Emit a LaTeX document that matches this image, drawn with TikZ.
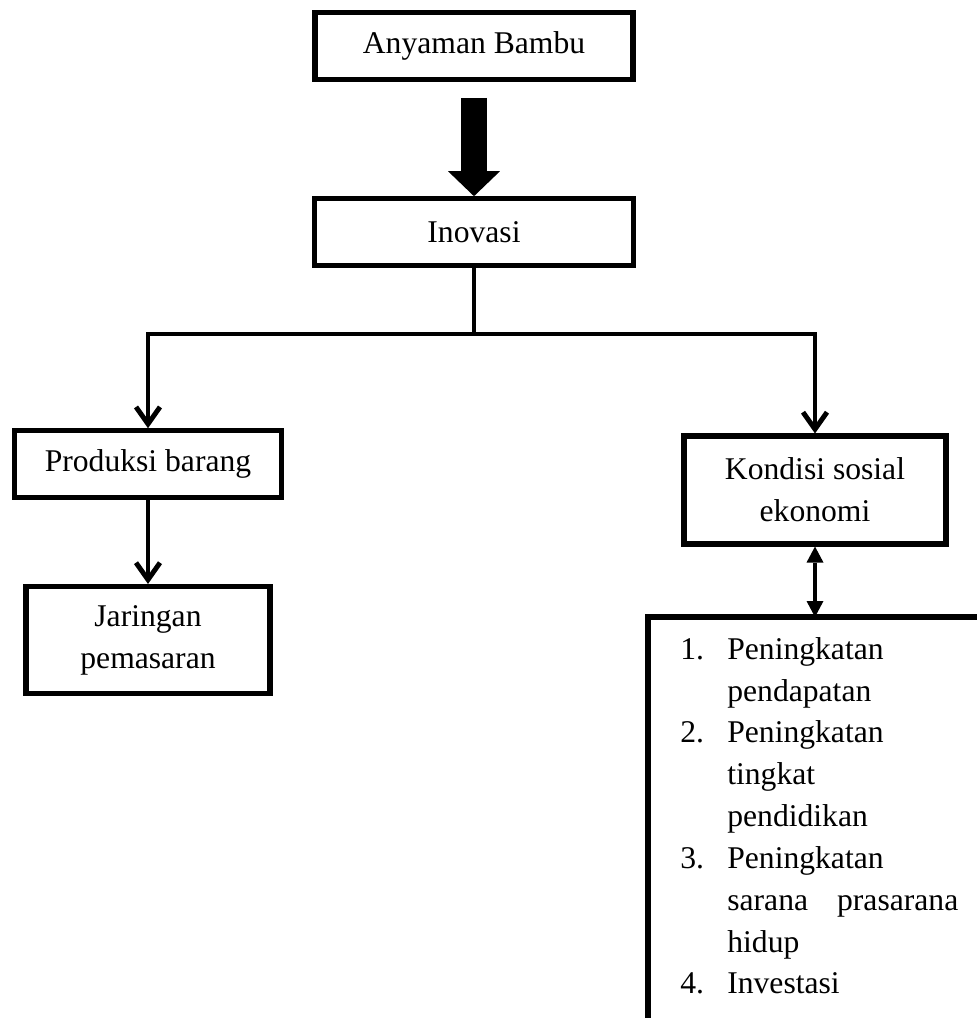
\documentclass[tikz,border=0pt]{standalone}
\usepackage{fontspec}
\setmainfont{Liberation Serif}
\usetikzlibrary{arrows.meta,positioning}

\newcommand{\butir}[2]{\makebox[0.94cm][l]{#1}#2}
\newcommand{\lanjut}[1]{\hspace*{0.94cm}#1}

\begin{document}
\begin{tikzpicture}[
  x=0.02cm, y=-0.02cm,
  kotak/.style={draw,line width=2.9pt,minimum width=#1,minimum height=1.33cm,
    align=center,inner sep=2pt,font=\fontsize{18}{23.8}\selectfont},
  garis/.style={line width=2.8pt},
  panah/.style={garis,-{Straight Barb[length=0.34cm,width=0.48cm]}},
  panahdua/.style={garis,{Triangle[length=0.32cm,width=0.34cm,line width=0pt]}-{Triangle[length=0.32cm,width=0.34cm,line width=0pt]}},
  panahbesar/.style={line width=0.52cm,-{Triangle[length=0.5cm,width=1.04cm,line width=0pt]},shorten <=0.32cm},
]
  \useasboundingbox (0,0) rectangle (977,1018);
  \clip (0,0) rectangle (977,1018);

  \node[kotak=6.36cm] (anyaman) at (474,46) {Anyaman Bambu};
  \node[kotak=6.38cm] (inovasi) at (474,232) {Inovasi};
  \node[kotak=5.34cm] (produksi) at (148,464) {Produksi barang};
  \node[kotak=4.88cm,minimum height=2.14cm] (jaringan) at (148,640) {Jaringan\\pemasaran};
  \node[kotak=5.24cm,minimum height=2.16cm] (kondisi) at (815,490) {Kondisi sosial\\ekonomi};

  % kotak daftar hasil (terpotong di kanan dan bawah)
  \draw[line width=2.9pt] (648,1040) |- (995,617) -- (995,1040);
  \coordinate (hasil) at (kondisi.south |- 0,617);
  \node[anchor=north west,inner sep=0pt,align=left,font=\fontsize{18}{23.8}\selectfont] (daftar) at (680,637) {%
    \butir{1.}{Peningkatan}\\
    \lanjut{pendapatan}\\
    \butir{2.}{Peningkatan}\\
    \lanjut{tingkat}\\
    \lanjut{pendidikan}\\
    \butir{3.}{Peningkatan}\\
    \lanjut{\makebox[4.62cm][s]{sarana prasarana}}\\
    \lanjut{hidup}\\
    \butir{4.}{Investasi}};

  \coordinate (cabang) at (474,334);
  \draw[panahbesar] (anyaman) -- (inovasi);
  \draw[garis] (inovasi) -- (cabang);
  \draw[panah] (cabang) -| (produksi);
  \draw[panah] (cabang) -| (kondisi);
  \draw[panah] (produksi) -- (jaringan);
  \draw[panahdua] (kondisi) -- (hasil);
\end{tikzpicture}
\end{document}
